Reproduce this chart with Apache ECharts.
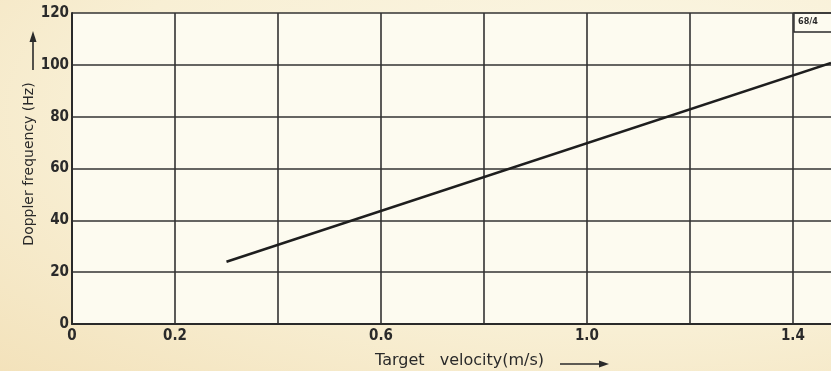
<!DOCTYPE html>
<html>
<head>
<meta charset="utf-8">
<script src="https://cdn.jsdelivr.net/npm/echarts@6/dist/echarts.min.js"></script>
<style>
  html, body { margin: 0; padding: 0; }
  body {
    width: 831px; height: 371px; overflow: hidden;
    background: radial-gradient(ellipse at 75% 30%, #fbf7e6 0%, #f8efd4 60%, #f3e2bb 100%);
  }
  #chart { width: 831px; height: 371px; }
</style>
</head>
<body>
<div id="chart"></div>
<script>
// Doppler frequency versus target velocity
const velocity = [0.3, 1.474];         // m/s
const dopplerHz = [24, 100.7];         // Hz
const xLabelsShown = ['0', '0.2', '0.6', '1.0', '1.4'];
const yTicks = [0, 20, 40, 60, 80, 100, 120];
const figureTag = '68/4';

const ink = '#2a2a2a';
const tickFont = '"DejaVu Sans Condensed", "DejaVu Sans", sans-serif';
const titleFont = '"DejaVu Sans", sans-serif';

const chart = echarts.init(document.getElementById('chart'), null, { renderer: 'canvas' });

const fmtX = v => {
  const s = (Math.abs(v) < 1e-9) ? '0' : v.toFixed(1);
  return xLabelsShown.includes(s) ? s : '';
};

chart.setOption({
  animation: false,
  backgroundColor: 'transparent',
  grid: {
    left: 72, right: -2, top: 13, bottom: 47,
    show: true, backgroundColor: '#fdfbf0', borderWidth: 0
  },
  xAxis: {
    type: 'value', min: 0, max: 1.474, interval: 0.2,
    axisLine: { show: true, onZero: false, lineStyle: { color: ink, width: 2 } },
    axisTick: { show: false },
    splitLine: { show: true, showMaxLine: false, lineStyle: { color: '#333', width: 1.6 } },
    axisLabel: {
      formatter: fmtX, margin: 5, color: ink, fontSize: 15, fontWeight: 'bold',
      fontFamily: tickFont, showMaxLabel: false
    }
  },
  yAxis: {
    type: 'value', min: yTicks[0], max: yTicks[yTicks.length - 1], interval: 20,
    axisLine: { show: true, lineStyle: { color: ink, width: 2 } },
    axisTick: { show: false },
    splitLine: { show: true, lineStyle: { color: '#333', width: 1.6 } },
    axisLabel: {
      margin: 3, color: ink, fontSize: 15, fontWeight: 'bold', fontFamily: tickFont
    }
  },
  series: [{
    type: 'line',
    data: velocity.map((v, i) => [v, dopplerHz[i]]),
    symbol: 'none',
    lineStyle: { color: '#1e1e1e', width: 2.5 },
    clip: true
  }],
  graphic: [
    // horizontal axis title with arrow
    {
      type: 'text', left: 375, top: 353,
      style: { text: 'Target   velocity(m/s)', fill: ink, font: '16px ' + titleFont }
    },
    {
      type: 'line', shape: { x1: 560, y1: 364, x2: 600, y2: 364 },
      style: { stroke: ink, lineWidth: 1.3 }
    },
    {
      type: 'polygon', shape: { points: [[609, 364], [599, 360.5], [599, 367.5]] },
      style: { fill: ink }
    },
    // vertical axis title with arrow
    {
      type: 'text', x: 29, y: 164, rotation: Math.PI / 2,
      style: {
        text: 'Doppler frequency (Hz)', fill: ink, font: '14px ' + titleFont,
        align: 'center', verticalAlign: 'middle'
      }
    },
    {
      type: 'line', shape: { x1: 33, y1: 70, x2: 33, y2: 40 },
      style: { stroke: ink, lineWidth: 1.6 }
    },
    {
      type: 'polygon', shape: { points: [[33, 31], [29.5, 42], [36.5, 42]] },
      style: { fill: ink }
    },
    // figure tag box
    {
      type: 'rect', shape: { x: 794, y: 13, width: 40, height: 19 },
      style: { fill: '#fdfbf0', stroke: ink, lineWidth: 1.4 }
    },
    {
      type: 'text', left: 798, top: 17,
      style: { text: figureTag, fill: ink, font: 'bold 9px ' + tickFont }
    }
  ]
});
</script>
</body>
</html>
